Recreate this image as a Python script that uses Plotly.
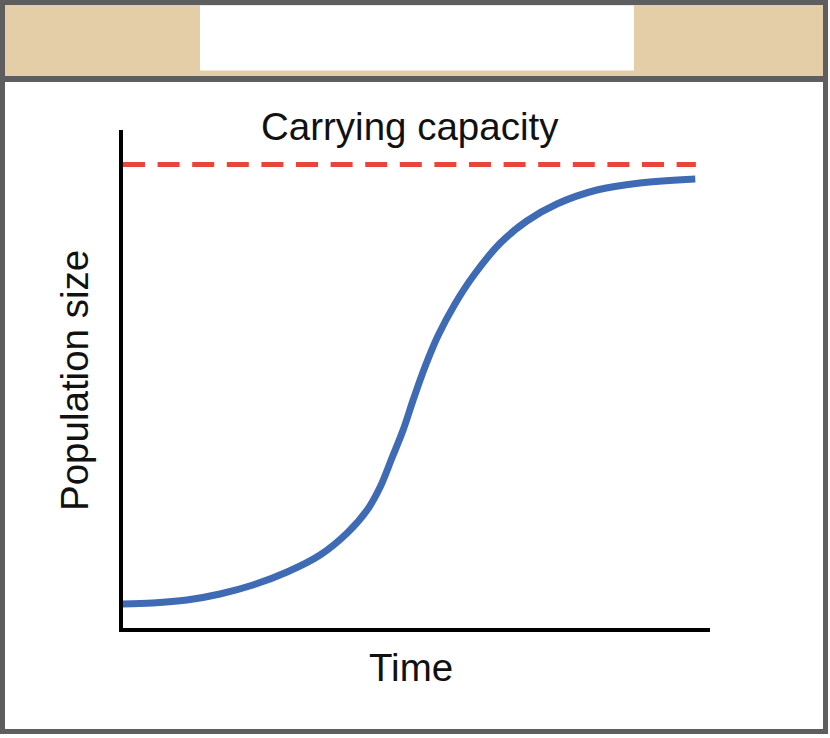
import plotly.graph_objects as go

# logistic growth curve (time 0-100, population 0-100)
time = [0.3, 5.4, 11.2, 16.8, 22.4, 28.2, 33.8, 38.4, 41.8, 44.0, 46.0, 47.9,
        49.6, 51.6, 53.8, 56.7, 59.8, 64.4, 68.9, 74.0, 80.8, 88.1, 97.5]
population = [5.2, 5.4, 6.0, 7.2, 9.0, 11.6, 15.0, 19.4, 24.0, 28.6, 34.4, 40.0,
              46.0, 52.6, 58.8, 65.2, 70.8, 77.4, 81.8, 85.2, 88.0, 89.4, 90.2]
carrying_capacity = 93.1
capacity_time = [0.34, 97.6]

W, H = 830, 738
L, R, T, B = 121, 710, 130, 630   # where the axis lines sit, in pixels
LW = 4                            # axis line width (plotly draws it just outside the plot area)
shift = LW / 2
PL, PB = L + shift, B - shift     # actual plot-area edges


def px(x):
    return (x - PL) / (R - PL)


def py(y):
    return (PB - y) / (PB - T)


FONT = "Liberation Sans, Arial, sans-serif"
GRAY = "#5e5e5e"

fig = go.Figure()
fig.add_trace(go.Scatter(x=capacity_time, y=[carrying_capacity] * 2, mode="lines",
                         line=dict(color="#e8463c", width=5, dash="22px,12.6px"),
                         hoverinfo="skip"))
fig.add_trace(go.Scatter(x=time, y=population, mode="lines",
                         line=dict(color="#3f6bb5", width=7, shape="spline", smoothing=1.0),
                         hoverinfo="skip"))

shapes = [
    # header band
    dict(type="rect", xref="paper", yref="paper", x0=px(3), x1=px(825), y0=py(3), y1=py(79),
         fillcolor="#e3cea7", line=dict(width=0), layer="below"),
    dict(type="rect", xref="paper", yref="paper", x0=px(200), x1=px(634), y0=py(5.5), y1=py(70.5),
         fillcolor="white", line=dict(width=0), layer="below"),
    dict(type="line", xref="paper", yref="paper", x0=px(2), x1=px(826), y0=py(79), y1=py(79),
         line=dict(color=GRAY, width=6)),
    # outer frame
    dict(type="rect", xref="paper", yref="paper", x0=px(2.5), x1=px(825.5), y0=py(2.5), y1=py(731.5),
         line=dict(color=GRAY, width=5)),
]

annotations = [
    dict(text="Carrying capacity", xref="paper", yref="paper", x=px(410), y=py(127),
         xanchor="center", yanchor="middle", showarrow=False,
         font=dict(family=FONT, size=38.5, color="#111111")),
    dict(text="Time", xref="paper", yref="paper", x=px(411), y=py(667),
         xanchor="center", yanchor="middle", showarrow=False,
         font=dict(family=FONT, size=38.5, color="#111111")),
    dict(text="Population size", xref="paper", yref="paper", x=px(74), y=py(381),
         xanchor="center", yanchor="middle", showarrow=False, textangle=-90,
         font=dict(family=FONT, size=38.5, color="#111111")),
]

axis = dict(showline=True, linewidth=LW, linecolor="black", showgrid=False, zeroline=False,
            showticklabels=False, ticks="", fixedrange=True)

# the plot area is inset by half a line width so the lines are centred on L and B;
# the ranges are trimmed to match so that 0 still falls on the line centre
fig.update_layout(
    width=W, height=H, autosize=False,
    margin=dict(l=PL, r=W - R, t=T, b=H - PB, pad=0),
    paper_bgcolor="white", plot_bgcolor="white",
    showlegend=False,
    xaxis=dict(axis, range=[shift / (R - L) * 100, 100]),
    yaxis=dict(axis, range=[shift / (B - T) * 100, 100]),
    shapes=shapes,
    annotations=annotations,
)

# page body has an 8px default margin; drop it so the figure sits at the corner
fig.write_html("out.html", config={"displayModeBar": False},
               post_script="document.body.style.margin='0';")
